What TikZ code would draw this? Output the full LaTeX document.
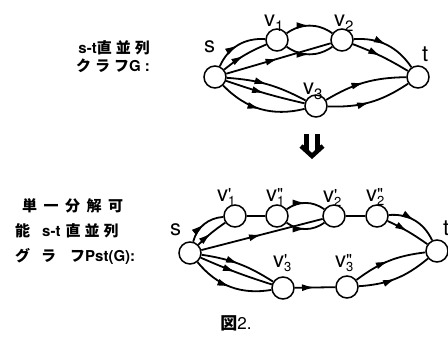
\documentclass[tikz,border=0pt]{standalone}
\usepackage{fontspec}
\setmainfont{TeX Gyre Heros}
\newfontfamily\lat{TeX Gyre Heros}
\newfontfamily\cjk{Noto Sans CJK JP}
\usetikzlibrary{arrows.meta,decorations.markings}

% subscript and primed-subscript vertex labels
\newcommand\vsub[1]{v\raisebox{-4.5pt}{\fontsize{15}{15}\selectfont #1}}
\newcommand\vpr[2]{v\makebox[0pt][l]{\raisebox{1.5pt}{\fontsize{17}{17}\selectfont #2}}\raisebox{-3.5pt}{\fontsize{13}{13}\selectfont #1}}
\newcommand\gp{\hspace{4pt}}
\newcommand\gq{\hspace{6.5pt}}

\tikzset{
  vtx/.style={circle, draw, line width=1.5pt, minimum size=22pt, inner sep=0pt, fill=white},
  arc/.style={line width=1.8pt, postaction={decorate},
    decoration={markings, mark=at position 0.5 with {\arrow{Latex[length=13pt,width=7pt]}}}},
  link/.style={line width=1.8pt},
  lbl/.style={font=\fontsize{22}{22}\selectfont, inner sep=0pt, anchor=base west},
  captxt/.style={font=\cjk\bfseries\fontsize{15}{15}\selectfont, inner sep=0pt},
}

\begin{document}
\begin{tikzpicture}[x=1pt,y=1pt]
\useasboundingbox (0,0) rectangle (448,339);

% ---- series-parallel graph G ----
\node[vtx] (s)  at (215,262) {};
\node[vtx] (v1) at (277,299) {};
\node[vtx] (v2) at (342,299) {};
\node[vtx] (t)  at (418,262) {};
\node[vtx] (v3) at (316,233) {};

\node[lbl] (ls)  at (204,286) {s};
\node[lbl] (lv1) at (264,312) {\vsub{1}};
\node[lbl] (lv2) at (334,312) {\vsub{2}};
\node[lbl] (lv3) at (303,244) {\vsub{3}};
\node[lbl] (lt)  at (422,277) {t};

\draw[arc] (s) to[bend left=35] (v1);
\draw[arc] (s) to[bend left=8] (v1);
\draw[arc] (v1) to[bend left=35] (v2);
\draw[arc] (v1) to[bend right=35] (v2);
\draw[arc] (s) -- (v2);
\draw[arc] (v2) to[bend left=30] (t);
\draw[arc] (v2) to[bend left=5] (t);
\draw[arc] (s) to[bend left=12] (v3);
\draw[arc] (s) to[bend right=3] (v3);
\draw[arc] (s) to[bend right=30] (v3);
\draw[arc] (v3) to[bend left=15] (t);
\draw[arc] (v3) to[bend right=18] (t);

\node[captxt, anchor=east] (g1) at (150,291) {{\lat s-t}直\gp{}並\gp{}列};
\node[captxt, anchor=east] (g2) at (150,273) {ク\gp{}ラ\gp{}フ{\lat G}\hspace{4pt}{\lat :}};

% ---- transformation arrow ----
\draw[line width=4.5pt] (306.7,205) -- (306.7,189);
\draw[line width=4.5pt] (317.3,205) -- (317.3,189);
\draw[line width=4.5pt, line join=miter] (301,193) -- (312,183) -- (323,193);

% ---- graph Pst(G) ----
\node[vtx] (S)   at (190,86) {};
\node[vtx] (a1)  at (235,123) {};
\node[vtx] (b1)  at (277,123) {};
\node[vtx] (a2)  at (334,123) {};
\node[vtx] (b2)  at (377,123) {};
\node[vtx] (T)   at (437,88) {};
\node[vtx] (a3)  at (283,51) {};
\node[vtx] (b3)  at (347,52) {};

\node[lbl] (lS)  at (170,103) {s};
\node[lbl] (la1) at (217,137) {\vpr{1}{\textquotesingle}};
\node[lbl] (lb1) at (266,137) {\vpr{1}{\textquotedbl}};
\node[lbl] (la2) at (323,136) {\vpr{2}{\textquotesingle}};
\node[lbl] (lb2) at (366,137) {\vpr{2}{\textquotedbl}};
\node[lbl] (la3) at (273,71) {\vpr{3}{\textquotesingle}};
\node[lbl] (lb3) at (335,71) {\vpr{3}{\textquotedbl}};
\node[lbl] (lT)  at (443,103) {t};

\draw[arc] (S) to[bend left=35] (a1);
\draw[arc] (S) to[bend left=5] (a1);
\draw[link] (a1) -- (b1);
\draw[arc] (b1) to[bend left=35] (a2);
\draw[arc] (b1) to[bend right=35] (a2);
\draw[arc] (S) -- (a2);
\draw[link] (a2) -- (b2);
\draw[arc] (b2) to[bend left=35] (T);
\draw[arc] (b2) to[bend left=5] (T);
\draw[arc] (S) to[bend left=12] (a3);
\draw[arc] (S) to[bend right=3] (a3);
\draw[arc] (S) to[bend right=30] (a3);
\draw[arc] (a3) -- (b3);
\draw[arc] (b3) to[bend left=15] (T);
\draw[arc] (b3) to[bend right=18] (T);

\node[captxt, anchor=west] (p1) at (22,133) {単\gq{}一\gq{}分\gq{}解\gq{}可};
\node[captxt, anchor=west] (p2) at (15,108) {能\hspace{12pt}{\lat s-t}\hspace{5pt}直\gp{}並\gp{}列};
\node[captxt, anchor=west] (p3) at (15,83) {グ\hspace{11pt}ラ\hspace{14pt}フ{\lat Pst(G):}};

% ---- caption ----
\node[captxt, font=\cjk\bfseries\fontsize{17}{17}\selectfont] (fig) at (236,16) {図{\lat\mdseries\fontsize{17}{17}\selectfont 2.}};
\end{tikzpicture}
\end{document}
